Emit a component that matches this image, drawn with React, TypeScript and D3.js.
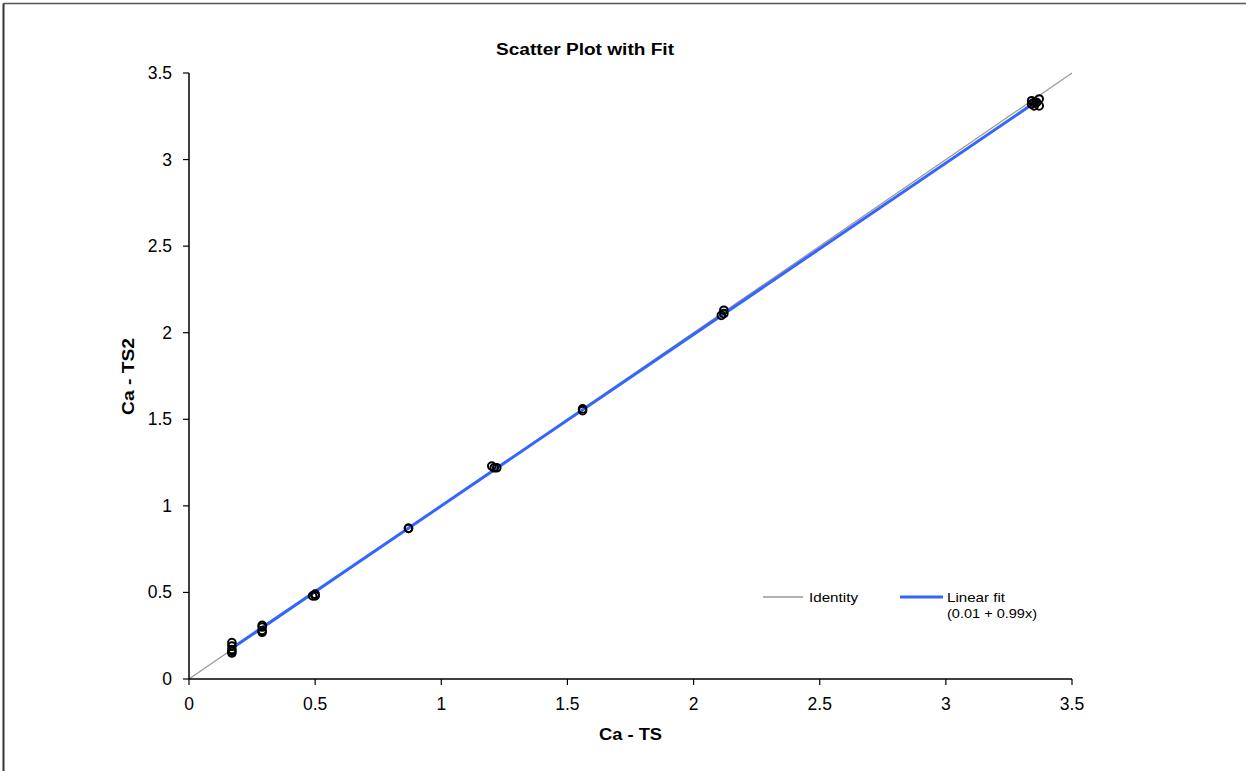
import React from "react";
import * as d3 from "d3";

const xValues = [0.17, 0.17, 0.17, 0.17, 0.17, 0.29, 0.29, 0.29, 0.29, 0.49, 0.5, 0.5, 0.87, 0.87, 1.2, 1.22, 1.21, 1.56, 1.56, 2.11, 2.12, 2.12, 3.34, 3.35, 3.34, 3.35, 3.37, 3.37, 3.36];
const yValues = [0.21, 0.19, 0.17, 0.16, 0.15, 0.31, 0.3, 0.28, 0.27, 0.48, 0.48, 0.49, 0.87, 0.87, 1.23, 1.22, 1.22, 1.56, 1.55, 2.1, 2.11, 2.13, 3.34, 3.33, 3.32, 3.31, 3.35, 3.31, 3.33];
const tickValues = [0, 0.5, 1, 1.5, 2, 2.5, 3, 3.5];
const fitIntercept = 0.01;
const fitSlope = 0.99;

const W = 1246;
const H = 771;
const font = "'Liberation Sans', Arial, sans-serif";

export default function App() {
  const x = d3.scaleLinear().domain([0, 3.5]).range([189, 1072]);
  const y = d3.scaleLinear().domain([0, 3.5]).range([679, 73]);
  const fmt = (v: number) => String(v);
  const line = d3.line<[number, number]>().x((d) => x(d[0])).y((d) => y(d[1]));
  const xMin = d3.min(xValues) as number;
  const xMax = d3.max(xValues) as number;
  const fitPts: [number, number][] = [
    [xMin, fitIntercept + fitSlope * xMin],
    [xMax, fitIntercept + fitSlope * xMax],
  ];
  const idPts: [number, number][] = [
    [0, 0],
    [3.5, 3.5],
  ];
  return (
    <svg width={W} height={H} style={{ position: "absolute", left: 0, top: 0 }} fontFamily={font}>
      <rect x={0} y={0} width={W} height={H} fill="#fff" />
      <line x1={3.5} y1={3.5} x2={W} y2={3.5} stroke="#555" strokeWidth={1.5} />
      <line x1={3.5} y1={3.5} x2={3.5} y2={H} stroke="#333" strokeWidth={2} />
      <text x={496} y={55} fontSize={16} fontWeight="bold" textLength={178} lengthAdjust="spacingAndGlyphs">Scatter Plot with Fit</text>
      <path d={line(idPts) || ""} stroke="#999" strokeWidth={1.3} fill="none" />
      <path d={line(fitPts) || ""} stroke="#3366ff" strokeWidth={3} fill="none" />
      {xValues.map((xv, i) => (
        <circle key={i} cx={x(xv)} cy={y(yValues[i])} r={3.8} fill="none" stroke="#000" strokeWidth={2} />
      ))}
      {/* axes */}
      <line x1={x(0)} y1={y(0)} x2={x(3.5)} y2={y(0)} stroke="#000" strokeWidth={1.5} />
      <line x1={x(0)} y1={y(0)} x2={x(0)} y2={y(3.5)} stroke="#000" strokeWidth={1.5} />
      {tickValues.map((t) => (
        <g key={"x" + t}>
          <line x1={x(t)} y1={y(0)} x2={x(t)} y2={y(0) + 6} stroke="#000" strokeWidth={1.2} />
          <text x={x(t)} y={710} textAnchor="middle" fontSize={17.5}>{fmt(t)}</text>
        </g>
      ))}
      {tickValues.map((t) => (
        <g key={"y" + t}>
          <line x1={x(0) - 6} y1={y(t)} x2={x(0)} y2={y(t)} stroke="#000" strokeWidth={1.2} />
          <text x={172} y={y(t) + 6} textAnchor="end" fontSize={17.5}>{fmt(t)}</text>
        </g>
      ))}
      <text x={599} y={740} fontSize={17} fontWeight="bold" textLength={63} lengthAdjust="spacingAndGlyphs">Ca - TS</text>
      <text transform={`translate(134,415) rotate(-90)`} fontSize={17} fontWeight="bold" textLength={77} lengthAdjust="spacingAndGlyphs">Ca - TS2</text>
      {/* legend */}
      <line x1={763} y1={597} x2={803} y2={597} stroke="#999" strokeWidth={1.3} />
      <text x={809} y={602} fontSize={13.5} textLength={49} lengthAdjust="spacingAndGlyphs">Identity</text>
      <line x1={900} y1={597} x2={943} y2={597} stroke="#3366ff" strokeWidth={3} />
      <text x={947} y={602} fontSize={13.5} textLength={58} lengthAdjust="spacingAndGlyphs">Linear fit</text>
      <text x={947} y={618} fontSize={13.5} textLength={90} lengthAdjust="spacingAndGlyphs">(0.01 + 0.99x)</text>
    </svg>
  );
}
